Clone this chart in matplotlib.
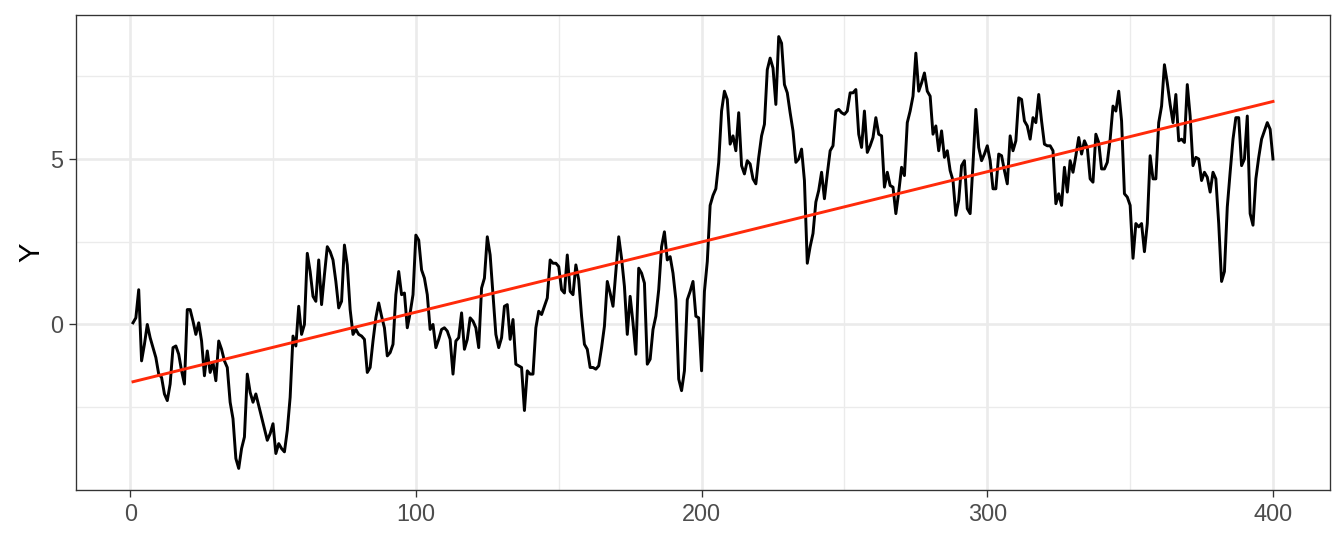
import numpy as np
import matplotlib
matplotlib.use("Agg")
import matplotlib.pyplot as plt
from matplotlib.ticker import MultipleLocator

# series values, t = 1..400
y_vals = [
    0.05, 0.2, 1.05, -1.1, -0.6, 0.0, -0.4, -0.7, -1.0, -1.5,
    -1.6, -2.1, -2.3, -1.8, -0.7, -0.65, -0.9, -1.4, -1.8, 0.45,
    0.45, 0.1, -0.3, 0.05, -0.5, -1.55, -0.8, -1.45, -1.15, -1.7,
    -0.5, -0.75, -1.1, -1.3, -2.35, -2.85, -4.05, -4.35, -3.75, -3.4,
    -1.5, -2.05, -2.35, -2.1, -2.45, -2.8, -3.15, -3.5, -3.3, -3.0,
    -3.9, -3.6, -3.75, -3.85, -3.2, -2.2, -0.35, -0.65, 0.55, -0.3,
    0.0, 2.15, 1.6, 0.85, 0.7, 1.95, 0.6, 1.5, 2.35, 2.2,
    1.95, 1.3, 0.5, 0.7, 2.4, 1.8, 0.45, -0.3, -0.15, -0.3,
    -0.35, -0.45, -1.45, -1.3, -0.5, 0.2, 0.65, 0.25, -0.1, -0.95,
    -0.85, -0.6, 0.9, 1.6, 0.9, 0.95, -0.1, 0.35, 0.9, 2.7,
    2.55, 1.65, 1.4, 0.9, -0.15, 0.0, -0.7, -0.45, -0.15, -0.1,
    -0.2, -0.45, -1.5, -0.5, -0.4, 0.35, -0.75, -0.45, 0.2, 0.1,
    -0.1, -0.7, 1.1, 1.4, 2.65, 2.1, 0.9, -0.3, -0.7, -0.4,
    0.55, 0.6, -0.45, 0.15, -1.2, -1.25, -1.3, -2.6, -1.4, -1.5,
    -1.5, -0.1, 0.4, 0.3, 0.55, 0.8, 1.95, 1.85, 1.85, 1.75,
    1.05, 0.95, 2.1, 1.0, 0.9, 1.8, 1.35, 0.25, -0.6, -0.75,
    -1.3, -1.3, -1.35, -1.25, -0.7, -0.05, 1.3, 0.95, 0.55, 1.6,
    2.65, 2.0, 1.15, -0.3, 0.85, 0.05, -0.9, 1.7, 1.55, 1.25,
    -1.2, -1.05, -0.15, 0.25, 1.05, 2.35, 2.8, 1.95, 2.05, 1.55,
    0.75, -1.65, -2.0, -1.4, 0.75, 1.0, 1.3, 0.25, 0.2, -1.4,
    1.0, 1.9, 3.6, 3.9, 4.1, 4.9, 6.45, 7.05, 6.8, 5.45,
    5.7, 5.25, 6.4, 4.8, 4.55, 4.95, 4.85, 4.4, 4.25, 5.05,
    5.7, 6.05, 7.7, 8.05, 7.75, 6.65, 8.7, 8.5, 7.25, 7.0,
    6.4, 5.85, 4.9, 5.0, 5.3, 4.35, 1.85, 2.35, 2.75, 3.7,
    4.05, 4.6, 3.8, 4.55, 5.25, 5.4, 6.45, 6.5, 6.4, 6.35,
    6.45, 7.0, 7.0, 7.1, 5.75, 5.35, 6.45, 5.2, 5.4, 5.65,
    6.25, 5.75, 5.7, 4.15, 4.6, 4.2, 4.15, 3.35, 4.0, 4.75,
    4.5, 6.1, 6.45, 6.9, 8.2, 7.05, 7.3, 7.6, 7.05, 6.9,
    5.75, 6.0, 5.25, 5.85, 5.05, 5.25, 4.65, 4.35, 3.3, 3.75,
    4.8, 4.95, 3.5, 3.35, 4.85, 6.5, 5.35, 4.95, 5.15, 5.4,
    4.95, 4.1, 4.1, 5.15, 5.1, 4.65, 4.25, 5.7, 5.25, 5.55,
    6.85, 6.8, 6.15, 6.0, 5.6, 6.25, 6.1, 6.95, 6.15, 5.45,
    5.4, 5.4, 5.25, 3.65, 3.95, 3.6, 4.75, 4.0, 4.95, 4.6,
    5.1, 5.65, 5.15, 5.55, 5.35, 4.4, 4.3, 5.75, 5.5, 4.7,
    4.7, 4.9, 5.6, 6.6, 6.45, 7.05, 6.15, 3.95, 3.85, 3.6,
    2.0, 3.05, 2.95, 3.05, 2.2, 3.05, 5.1, 4.4, 4.4, 6.1,
    6.6, 7.85, 7.3, 6.65, 6.1, 6.95, 5.55, 5.6, 5.5, 7.25,
    6.3, 4.8, 5.05, 5.0, 4.35, 4.6, 4.45, 4.0, 4.6, 4.4,
    3.05, 1.3, 1.6, 3.55, 4.6, 5.6, 6.25, 6.25, 4.8, 5.0,
    6.3, 3.35, 3.0, 4.4, 5.05, 5.6, 5.85, 6.1, 5.9, 5.0,
]
y = np.array(y_vals)
t = np.arange(1, len(y) + 1)

x_ticks = [0, 100, 200, 300, 400]
y_ticks = [0, 5]

# linear fit, like geom_smooth(method = "lm")
slope, icpt = np.polyfit(t, y, 1)

plt.rcParams['font.family'] = ['Liberation Sans', 'DejaVu Sans']

fig = plt.figure(figsize=(7, 537 / 192), dpi=192)
ax = fig.add_axes([76 / 1344, 1 - 490 / 537, (1330 - 76) / 1344, (490 - 15) / 537])

ax.plot(t, y, color='black', lw=1.1, zorder=3)
ax.plot(t, icpt + slope * t, color='#FF2A0A', lw=1.1, zorder=4)

xr = t.max() - t.min()
ax.set_xlim(t.min() - 0.05 * xr, t.max() + 0.05 * xr)
yr = y.max() - y.min()
ax.set_ylim(y.min() - 0.05 * yr, y.max() + 0.05 * yr)

ax.set_xticks(x_ticks)
ax.set_yticks(y_ticks)
ax.xaxis.set_minor_locator(MultipleLocator(50))
ax.yaxis.set_minor_locator(MultipleLocator(2.5))
ax.grid(which='major', color='#EBEBEB', lw=1.0)
ax.grid(which='minor', color='#EBEBEB', lw=0.5)
ax.set_axisbelow(True)
ax.tick_params(which='major', length=2.75, width=0.5, color='#333333',
               labelsize=8.8, labelcolor='#4D4D4D', pad=2)
ax.tick_params(which='minor', length=0)
for s in ax.spines.values():
    s.set_color('#333333')
    s.set_linewidth(0.5)

ax.set_ylabel('Y', fontsize=11, labelpad=2)

fig.savefig('out.png', dpi=192)
